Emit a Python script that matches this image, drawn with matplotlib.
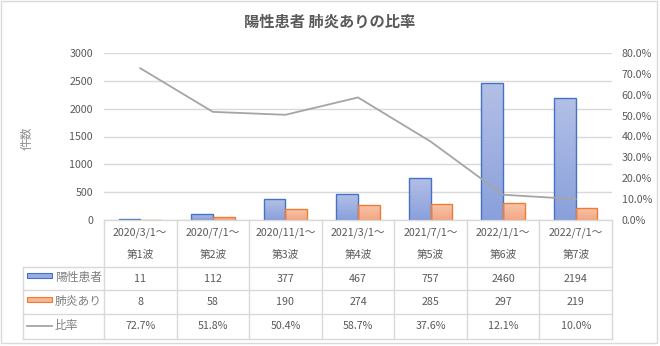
import matplotlib.pyplot as plt
import numpy as np
from matplotlib.colors import LinearSegmentedColormap
from matplotlib.lines import Line2D
from matplotlib.patches import Rectangle
from matplotlib.ticker import PercentFormatter

plt.rcParams['font.family'] = ['Noto Sans CJK JP', 'DejaVu Sans']

periods = ['2020/3/1～', '2020/7/1～', '2020/11/1～', '2021/3/1～',
           '2021/7/1～', '2022/1/1～', '2022/7/1～']
waves = ['第1波', '第2波', '第3波', '第4波', '第5波', '第6波', '第7波']
positives = [11, 112, 377, 467, 757, 2460, 2194]
pneumonia = [8, 58, 190, 274, 285, 297, 219]
ratio = [0.727, 0.518, 0.504, 0.587, 0.376, 0.121, 0.100]

W, H = 660, 346
TXT = '#595959'
GRID = '#d9d9d9'
BLUE_EDGE, ORANGE_EDGE = '#4472c4', '#ed7d31'
LINE_C = '#a5a5a5'


def fx(px):
    return px / W


def fy(py):
    return 1 - py / H


fig = plt.figure(figsize=(W / 100, H / 100), dpi=100)

# plot area in pixels: left 104, right 612, top 53, bottom 220
L, R, T, B = 104, 612, 53, 220
ax = fig.add_axes([fx(L), fy(B), (R - L) / W, (B - T) / H])
ax2 = ax.twinx()

x = np.arange(len(periods))
ax.set_xlim(-0.5, len(periods) - 0.5)
ax.set_ylim(0, 3000)
ax.set_yticks(range(0, 3001, 500))
ax.set_xticks([])
ax.grid(axis='y', color=GRID, lw=1)
ax.set_axisbelow(True)
ax.tick_params(axis='y', length=0, pad=8, labelsize=7.7, labelcolor=TXT)
for s in ax.spines.values():
    s.set_visible(False)

ax2.set_ylim(0, 0.8)
ax2.set_yticks(np.arange(0, 0.81, 0.1))
ax2.yaxis.set_major_formatter(PercentFormatter(1, decimals=1))
ax2.tick_params(axis='y', length=0, pad=7, labelsize=7.7, labelcolor=TXT)
for s in ax2.spines.values():
    s.set_visible(False)

blue_cm = LinearSegmentedColormap.from_list('b', ['#b3c0e6', '#8aa0dc'])
orange_cm = LinearSegmentedColormap.from_list('o', ['#f8c4aa', '#f4a785'])
grad = np.linspace(0, 1, 64).reshape(-1, 1)

bw = 0.3
blue_bars = ax.bar(x - bw / 2, positives, bw, facecolor='none',
                   edgecolor=BLUE_EDGE, lw=1, zorder=3)
orange_bars = ax.bar(x + bw / 2, pneumonia, bw, facecolor='none',
                     edgecolor=ORANGE_EDGE, lw=1, zorder=3)

# gradient fill clipped to each bar
for bars, cm in ((blue_bars, blue_cm), (orange_bars, orange_cm)):
    for b in bars:
        x0, y0 = b.get_x(), b.get_y()
        im = ax.imshow(grad, cmap=cm, aspect='auto', zorder=2,
                       extent=(x0, x0 + b.get_width(), y0, y0 + b.get_height()),
                       origin='upper')
        im.set_clip_path(b)
ax.set_xlim(-0.5, len(periods) - 0.5)
ax.set_ylim(0, 3000)

ax2.plot(x, ratio, color=LINE_C, lw=1.3, zorder=4)

fig.text(0.5, fy(22), '陽性患者 肺炎ありの比率', ha='center', va='center',
         fontsize=11, fontweight='bold', color=TXT)
fig.text(fx(27), fy(138), '件数', rotation=90, ha='center', va='center',
         fontsize=8.5, color='#8c8c8c')


# data table below the plot
def hline(py, x0, x1):
    fig.add_artist(Line2D([fx(x0), fx(x1)], [fy(py), fy(py)], color=GRID, lw=1))


def vline(px, y0, y1):
    fig.add_artist(Line2D([fx(px), fx(px)], [fy(y0), fy(y1)], color=GRID, lw=1))


LEG = 23
rows = [220, 267, 290, 314, 339]
colw = (R - L) / len(periods)
hline(rows[0], L, R)
for r in rows[1:]:
    hline(r, LEG, R)
for i in range(len(periods) + 1):
    vline(L + i * colw, rows[0], rows[-1])
vline(LEG, rows[1], rows[-1])

for i in range(len(periods)):
    cx = L + (i + 0.5) * colw
    fig.text(fx(cx), fy(233), periods[i], ha='center', va='center', fontsize=7.7, color=TXT)
    fig.text(fx(cx), fy(255), waves[i], ha='center', va='center', fontsize=7.7, color=TXT)
    fig.text(fx(cx), fy(279), str(positives[i]), ha='center', va='center', fontsize=7.7, color=TXT)
    fig.text(fx(cx), fy(302), str(pneumonia[i]), ha='center', va='center', fontsize=7.7, color=TXT)
    fig.text(fx(cx), fy(326), f'{ratio[i] * 100:.1f}%', ha='center', va='center',
             fontsize=7.7, color=TXT)

# legend keys in the first column
fig.add_artist(Rectangle((fx(27), fy(278)), fx(52) - fx(27), fy(273) - fy(278),
                         facecolor='#9aaee0', edgecolor=BLUE_EDGE, lw=0.8))
fig.add_artist(Rectangle((fx(27), fy(302)), fx(52) - fx(27), fy(297) - fy(302),
                         facecolor='#f6b496', edgecolor=ORANGE_EDGE, lw=0.8))
fig.add_artist(Line2D([fx(27), fx(52)], [fy(326), fy(326)], color=LINE_C, lw=1.3))
for py, lab in ((277, '陽性患者'), (301, '肺炎あり'), (326, '比率')):
    fig.text(fx(55), fy(py), lab, ha='left', va='center', fontsize=8.5, color='#7f7f7f')

# outer frame
fig.add_artist(Rectangle((fx(1), fy(343)), fx(657) - fx(1), fy(1) - fy(343),
                         facecolor='none', edgecolor=GRID, lw=1))

fig.savefig('out.png', dpi=100)
